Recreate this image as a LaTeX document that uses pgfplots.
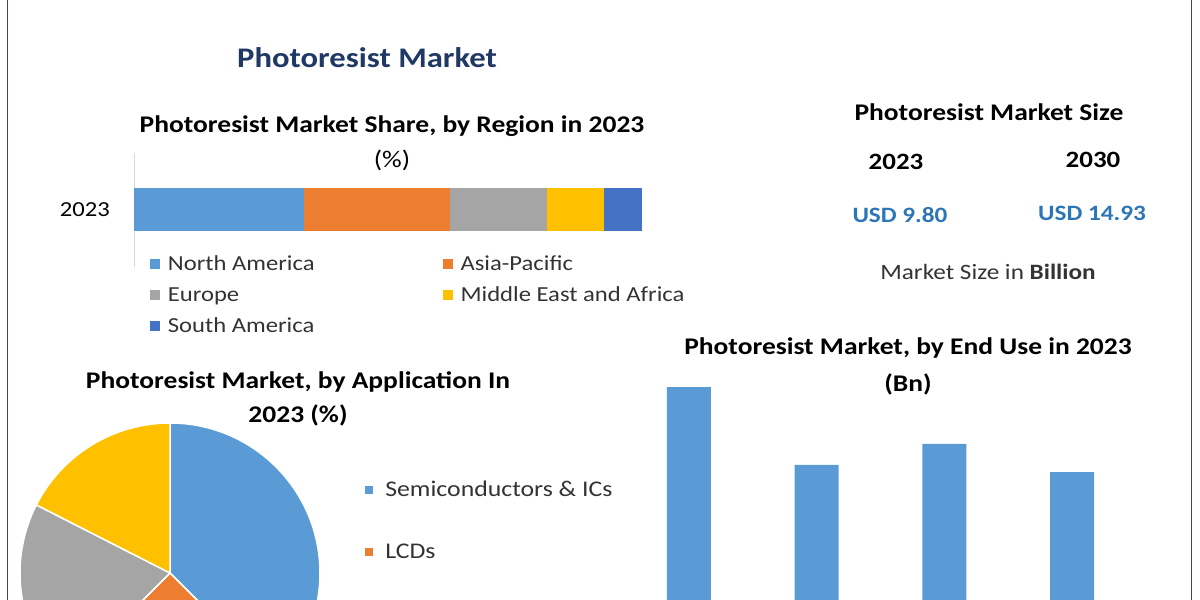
\documentclass[border=0pt]{standalone}
\usepackage{fontspec}
\setmainfont{Carlito}[FakeStretch=1.15]
\usepackage{pgfplots}
\pgfplotsset{compat=1.18}

\definecolor{cBlue}{HTML}{5B9BD5}
\definecolor{cOrange}{HTML}{ED7D31}
\definecolor{cGray}{HTML}{A5A5A5}
\definecolor{cYellow}{HTML}{FFC000}
\definecolor{cDarkBlue}{HTML}{4472C4}
\definecolor{cNavy}{HTML}{203864}
\definecolor{cUsd}{HTML}{2E75B6}
\definecolor{cFrame}{HTML}{3F4A4A}

\newcommand{\fs}[1]{\fontsize{#1}{#1}\selectfont}

\begin{document}
\begin{tikzpicture}
\path[use as bounding box] (0,0) rectangle (1200bp,600bp);
\clip (0,0) rectangle (1200bp,600bp);

% frame lines at the sides
\draw[cFrame, line width=1.5bp] (7.5bp,0) -- (7.5bp,600bp);
\draw[cFrame, line width=1.5bp] (1191.5bp,0) -- (1191.5bp,600bp);

% headings
\node[text=cNavy, font=\fs{28.5}\bfseries] at (367bp,542bp) {Photoresist Market};
\node[font=\fs{24}\bfseries] at (392bp,474bp) {Photoresist Market Share, by Region in 2023};
\node[font=\fs{24}] at (392bp,440bp) {(\%)};

\node[font=\fs{24}\bfseries] at (989bp,488bp) {Photoresist Market Size};
\node[font=\fs{23.5}\bfseries] at (896bp,438bp) {2023};
\node[font=\fs{23.5}\bfseries] at (1093bp,440bp) {2030};
\node[text=cUsd, font=\fs{22}\bfseries] at (900bp,385bp) {USD 9.80};
\node[text=cUsd, font=\fs{22}\bfseries] at (1092bp,387bp) {USD 14.93};
\node[text=black!80, font=\fs{22}] at (988bp,328bp) {Market Size in \textbf{Billion}};

\node[font=\fs{24}\bfseries] at (298bp,218bp) {Photoresist Market, by Application In};
\node[font=\fs{24}\bfseries] at (298bp,185bp) {2023 (\%)};

\node[font=\fs{24}\bfseries] at (908bp,252bp) {Photoresist Market, by End Use in 2023};
\node[font=\fs{24}\bfseries] at (908bp,216bp) {(Bn)};

% share by region, stacked bar
\begin{axis}[
  at={(134bp,333bp)}, anchor=south west,
  scale only axis, width=508bp, height=114bp,
  xbar stacked, bar width=43bp,
  xmin=0, xmax=100, ymin=-0.5, ymax=0.5,
  axis x line=none, axis y line*=left,
  y axis line style={draw=black!15, line width=1bp},
  ytick={0}, yticklabels={2023}, major tick length=0pt,
  yticklabel style={font=\fs{21.5}, inner sep=0pt, xshift=-24bp},
  legend columns=2,
  legend cell align=left,
  legend image code/.code={\fill[#1] (0bp,-5bp) rectangle (10bp,5bp); \path (17bp,0bp);},
  legend style={at={(0.025,0.13)}, anchor=north west, draw=none, fill=none,
    font=\fs{21.5}, text=black!80, row sep=13bp, nodes={inner sep=1bp},
    /tikz/every even column/.append style={column sep=127bp}},
]
\addplot[fill=cBlue, draw=none] coordinates {(33.5,0)};
\addplot[fill=cOrange, draw=none] coordinates {(28.8,0)};
\addplot[fill=cGray, draw=none] coordinates {(18.9,0)};
\addplot[fill=cYellow, draw=none] coordinates {(11.4,0)};
\addplot[fill=cDarkBlue, draw=none] coordinates {(7.4,0)};
\legend{North America, Asia-Pacific, Europe, Middle East and Africa, South America}
\end{axis}

% share by application, pie (Semiconductors 37.5, LCDs 25, PCB 20, Others 17.5)
\begin{axis}[
  at={(10bp,0bp)}, anchor=south west,
  scale only axis, width=330bp, height=200bp,
  xmin=10, xmax=340, ymin=0, ymax=200,
  hide axis, clip=true,
  legend cell align=left,
  legend image code/.code={\fill[#1] (0bp,-4bp) rectangle (8bp,4bp); \path (19bp,0bp);},
  legend style={at={(1.067,0.61)}, anchor=north west, draw=none, fill=none,
    font=\fs{22.5}, text=black!80, row sep=44bp, nodes={inner sep=1bp}},
]
\fill[cBlue, draw=white, line width=1.5bp] (axis cs:170,27) -- ++(90:150bp) arc[start angle=90, delta angle=-135, radius=150bp] -- cycle;
\fill[cOrange, draw=white, line width=1.5bp] (axis cs:170,27) -- ++(-45:150bp) arc[start angle=-45, delta angle=-90, radius=150bp] -- cycle;
\fill[cGray, draw=white, line width=1.5bp] (axis cs:170,27) -- ++(-135:150bp) arc[start angle=-135, delta angle=-72, radius=150bp] -- cycle;
\fill[cYellow, draw=white, line width=1.5bp] (axis cs:170,27) -- ++(153:150bp) arc[start angle=153, delta angle=-63, radius=150bp] -- cycle;
\addlegendimage{fill=cBlue, draw=none}
\addlegendentry{Semiconductors \& ICs}
\addlegendimage{fill=cOrange, draw=none}
\addlegendentry{LCDs}
\end{axis}

% by end use, bars (cut at the bottom edge)
\begin{axis}[
  at={(625bp,0bp)}, anchor=south west,
  scale only axis, width=511bp, height=220bp,
  ybar, bar width=44bp,
  xmin=-0.5, xmax=3.5, ymin=0.952, ymax=3.048,
  hide axis, clip=true,
]
\addplot[fill=cBlue, draw=none] coordinates {(0,2.98) (1,2.24) (2,2.44) (3,2.17)};
\end{axis}
\end{tikzpicture}
\end{document}
